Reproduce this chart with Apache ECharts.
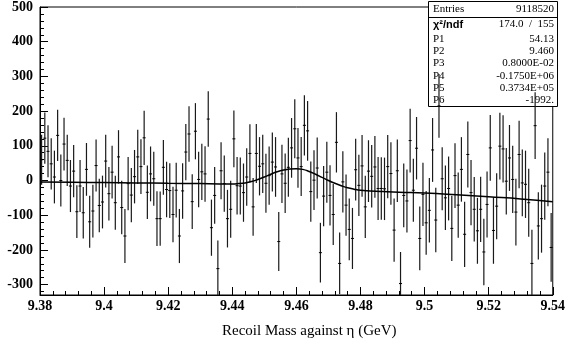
<!DOCTYPE html>
<html><head><meta charset="utf-8">
<script src="https://cdn.jsdelivr.net/npm/echarts@6/dist/echarts.min.js"></script>
<style>html,body{margin:0;padding:0;background:#fff}#c{width:568px;height:347px}</style>
</head><body><div id="c"></div>
<script>
const binLow = 9.38;
const binWidth = 0.001;
const counts = [
  60,122,84,48,10,130,0,105,58,-16,27,-90,-16,-93,32,-119,-88,43,-72,-62,
  56,-38,24,-64,68,-78,-160,-9,-42,11,68,40,123,-34,19,5,-110,-110,38,-26,
  -29,-98,-28,-160,-30,82,134,-61,142,3,25,19,177,-136,-43,-254,28,-9,-110,-83,
  120,-15,-16,-35,10,78,-76,78,41,48,-8,14,53,39,-176,19,-8,38,94,149,
  65,40,159,143,-32,1,36,-208,-45,24,-43,-98,110,-239,-4,-71,-141,-167,31,-14,
  42,-76,27,12,39,-23,-23,-24,40,20,-143,28,-297,-43,-59,115,-28,93,-167,-40,
  -122,-86,88,-114,215,5,-50,-23,-138,14,-71,32,-155,75,-35,-83,-145,-83,-206,-69,
  94,-144,-74,99,91,-2,65,3,-91,75,-7,-11,-64,-239,158,-131,-110,-16,24,-193
];
const errors = [
  72,74,75,74,76,74,75,76,74,75,75,76,75,74,76,75,76,75,77,76,
  76,77,76,78,77,77,78,77,78,77,78,79,78,77,79,78,79,78,79,80,
  79,80,79,78,80,81,80,79,81,80,81,80,80,81,82,81,82,81,83,82,
  82,83,82,84,83,84,83,85,84,84,85,84,85,86,85,84,86,85,86,85,
  86,85,87,86,87,86,88,86,87,88,87,88,87,89,88,88,89,88,89,88,
  89,90,89,90,89,91,90,90,91,90,91,90,91,92,91,92,91,90,92,91,
  92,93,92,93,92,91,93,92,94,93,94,93,94,95,94,93,95,94,96,95,
  95,96,95,96,97,96,95,97,96,97,96,97,98,97,96,97,98,97,98,99
];
const fitX = [9.380,9.390,9.400,9.410,9.420,9.430,9.436,9.440,9.442,9.444,9.446,9.448,9.450,9.452,9.454,9.456,9.458,9.460,9.462,9.464,9.466,9.468,9.470,9.472,9.474,9.476,9.478,9.480,9.483,9.487,9.492,9.500,9.510,9.520,9.530,9.540];
const fitY = [-4,-5,-6,-7,-8,-9,-10,-10,-9,-7,-3,3,10,18,25,30,33,34,32,26,18,9,0,-8,-15,-21,-25,-28,-30,-32,-34,-36,-41,-47,-53,-61];
const statsLabels = ['Entries','\u03c7\u00b2/ndf','P1','P2','P3','P4','P5','P6'];
const statsValues = ['9118520','174.0  /  155','54.13','9.460','0.8000E-02','-0.1750E+06','0.3734E+05','-1992.'];
const xTitle = 'Recoil Mass against \u03b7 (GeV)';

const YMIN = -330, YMAX = 500;
const histData = counts.map((v, i) => [binLow + (i + 0.5) * binWidth, v, errors[i]]);
const fitData = fitX.map((x, i) => [x, fitY[i]]);

const serif = '"Liberation Serif","DejaVu Serif",serif';
const chart = echarts.init(document.getElementById('c'), null, {renderer: 'canvas'});

const statsRowY = [10, 25, 40, 52, 64, 77, 89, 101];
const statsGraphics = [
  {type: 'rect', shape: {x: 428.5, y: 1.5, width: 129, height: 105}, style: {fill: '#fff', stroke: '#000', lineWidth: 1}, z: 1},
  {type: 'line', shape: {x1: 428.5, y1: 17.5, x2: 557.5, y2: 17.5}, style: {stroke: '#000', lineWidth: 1}, z: 1}
];
statsLabels.forEach((t, i) => {
  statsGraphics.push({type: 'text', left: 433, top: statsRowY[i] - 6, z: 1,
    style: {text: t, font: (i === 1 ? 'bold 11px "Liberation Sans",sans-serif' : '11px ' + serif), fill: '#000'}});
  statsGraphics.push({type: 'text', right: 568 - 554, top: statsRowY[i] - 6, z: 1,
    style: {text: statsValues[i], font: '11px ' + serif, fill: '#000', textAlign: 'right'}});
});
statsGraphics.push({type: 'text', left: 222, top: 324, z: 1,
  style: {text: xTitle, font: '15px ' + serif, fill: '#000'}});

chart.setOption({
  animation: false,
  backgroundColor: '#fff',
  grid: {left: 40, right: 10, top: 6, bottom: 52, show: true, borderColor: '#000', borderWidth: 1, backgroundColor: 'transparent'},
  xAxis: {
    type: 'value', min: 9.38, max: 9.54, interval: 0.02,
    axisLine: {show: true, onZero: false, lineStyle: {color: '#000', width: 1}},
    axisTick: {show: true, inside: true, length: 8, lineStyle: {color: '#000'}},
    minorTick: {show: true, splitNumber: 5, length: 4, lineStyle: {color: '#000'}},
    axisLabel: {color: '#000', fontFamily: serif, fontWeight: 'bold', fontSize: 14, margin: 4,
      formatter: v => String(parseFloat(v.toFixed(3)))},
    splitLine: {show: false}
  },
  yAxis: {
    type: 'value', min: YMIN, max: YMAX, splitNumber: 8,
    axisLine: {show: true, onZero: false, lineStyle: {color: '#000', width: 1}},
    axisTick: {show: true, inside: true, length: 8, lineStyle: {color: '#000'}},
    minorTick: {show: true, splitNumber: 5, length: 4, lineStyle: {color: '#000'}},
    axisLabel: {color: '#000', fontFamily: serif, fontWeight: 'bold', fontSize: 14, margin: 7, showMinLabel: false},
    splitLine: {show: false}
  },
  graphic: statsGraphics,
  series: [
    {
      type: 'custom', z: 5, clip: true,
      data: histData,
      renderItem: function (params, api) {
        const x = api.value(0), y = api.value(1), e = api.value(2);
        const hi = Math.min(y + e, YMAX), lo = Math.max(y - e, YMIN);
        const top = api.coord([x, hi]), bot = api.coord([x, lo]), c = api.coord([x, y]);
        const children = [
          {type: 'line', shape: {x1: top[0], y1: top[1], x2: bot[0], y2: bot[1]}, style: {stroke: '#1a1a1a', lineWidth: 1.2}}
        ];
        if (y > YMIN && y < YMAX) {
          children.push({type: 'line', shape: {x1: c[0] - 1.5, y1: c[1], x2: c[0] + 1.5, y2: c[1]}, style: {stroke: '#000', lineWidth: 1}});
        }
        return {type: 'group', children: children};
      }
    },
    {
      type: 'line', z: 6, data: fitData, smooth: true, showSymbol: false, symbol: 'none',
      lineStyle: {color: '#000', width: 1.5}
    }
  ]
});
</script>
</body></html>
